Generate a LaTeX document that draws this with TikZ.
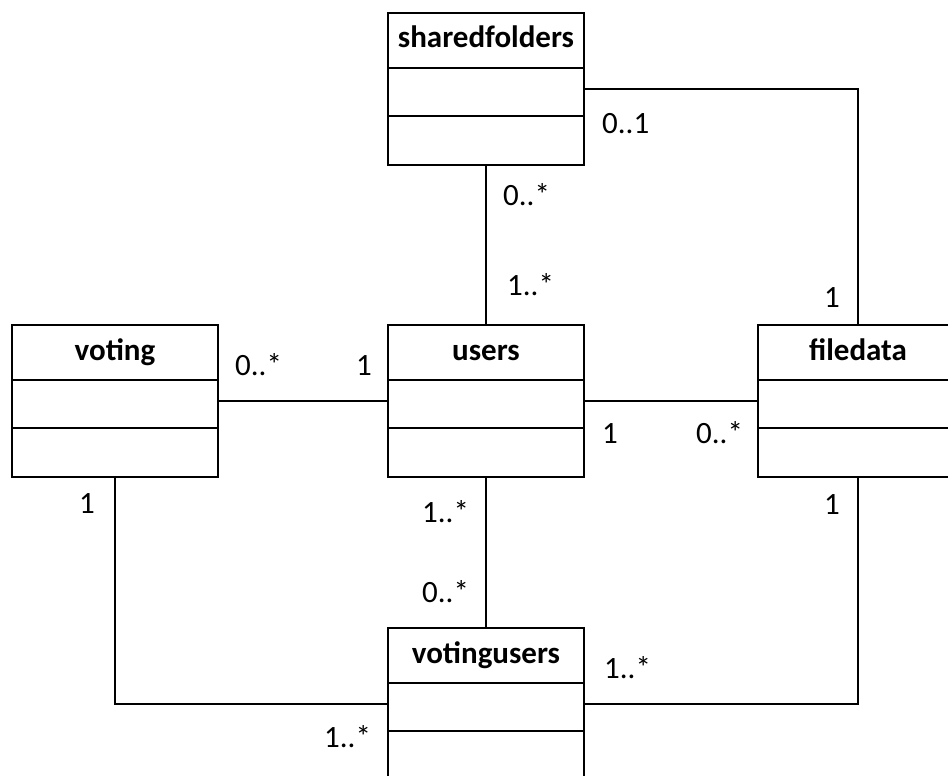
\documentclass[tikz,border=0pt]{standalone}
\usepackage{fontspec}
\setmainfont{Carlito}
\begin{document}
\begin{tikzpicture}[x=1pt,y=-1pt,
  classbox/.style={draw=black,line width=2pt,fill=white,minimum height=152pt,inner sep=0pt},
  title/.style={anchor=base,inner sep=0pt,font=\fontsize{31}{36}\selectfont\bfseries},
  mult/.style={anchor=base west,inner sep=0pt,font=\fontsize{31}{36}\selectfont},
  conn/.style={draw=black,line width=1.3pt},
  sep/.style={draw=black,line width=2pt}]
\useasboundingbox (0,0) rectangle (948,776);
\clip (0,0) rectangle (948,776);
% boxes
\node[classbox,minimum width=196pt] (sf) at (486,89) {};
\node[classbox,minimum width=206pt] (vo) at (115,401) {};
\node[classbox,minimum width=196pt] (us) at (486,401) {};
\node[classbox,minimum width=200pt] (fd) at (858,401) {};
\node[classbox,minimum width=196pt] (vu) at (486,704) {};
\foreach \b/\t in {sf/sharedfolders,vo/voting,us/users,fd/filedata,vu/votingusers}{
  \draw[sep] ([yshift=-56pt]\b.north west) -- ([yshift=-56pt]\b.north east);
  \draw[sep] ([yshift=-104pt]\b.north west) -- ([yshift=-104pt]\b.north east);
  \node[title] at ([yshift=-36pt]\b.north) {\t};
}
% connectors
\coordinate (c1) at (fd.north |- sf.east);
\draw[conn] (sf.east) -- (c1) -- (fd.north);
\draw[conn] (sf.south) -- (us.north);
\draw[conn] (vo.east) -- (us.west);
\draw[conn] (us.east) -- (fd.west);
\draw[conn] (us.south) -- (vu.north);
\coordinate (c2) at (vo.south |- vu.west);
\draw[conn] (vo.south) -- (c2) -- (vu.west);
\coordinate (c3) at (fd.south |- vu.east);
\draw[conn] (fd.south) -- (c3) -- (vu.east);
% multiplicities
\node[mult] (m1) at (602,133) {0..1};
\node[mult] (m2) at (503,205) {0..*};
\node[mult] (m3) at (507,295) {1..*};
\node[mult] (m4) at (824,307) {1};
\node[mult] (m5) at (235,375) {0..*};
\node[mult] (m6) at (356,375) {1};
\node[mult] (m7) at (602,443) {1};
\node[mult] (m8) at (696,443) {0..*};
\node[mult] (m9) at (79,513) {1};
\node[mult] (m10) at (422,522) {1..*};
\node[mult] (m11) at (824,514) {1};
\node[mult] (m12) at (422,602) {0..*};
\node[mult] (m13) at (604,678) {1..*};
\node[mult] (m14) at (324,747) {1..*};
\end{tikzpicture}
\end{document}
